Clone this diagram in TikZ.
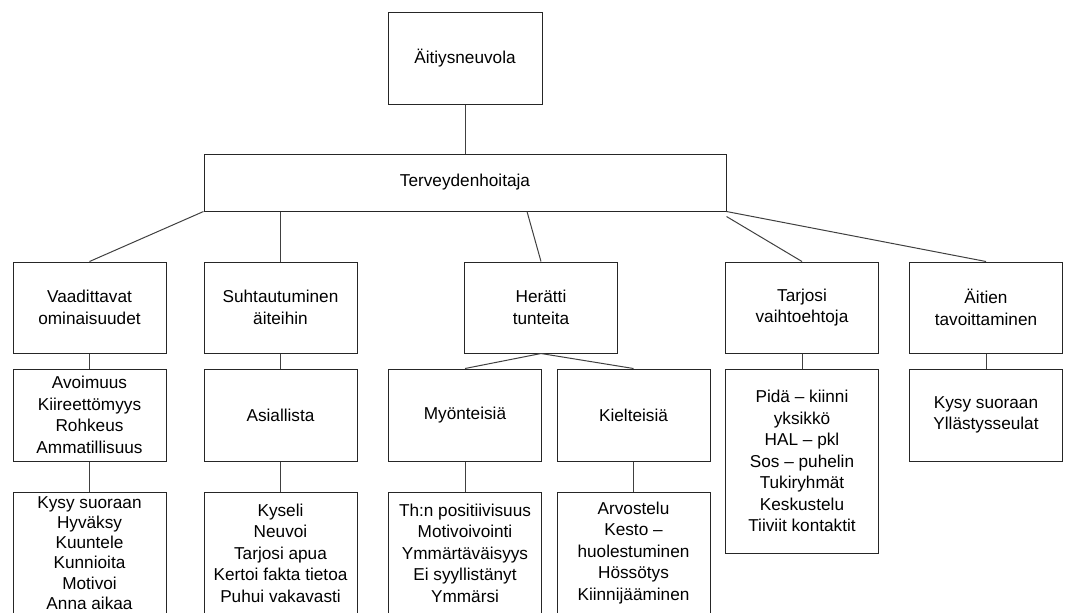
\documentclass[tikz,border=0pt]{standalone}
\usepackage{fontspec}
\setmainfont{Liberation Sans}
\usetikzlibrary{positioning,calc}
\tikzset{
  catbox/.style={draw=black!85,fill=white,line width=0.75pt,
                 minimum width=114.75pt,minimum height=68.25pt,
                 align=center,inner sep=2pt,
                 font=\fontsize{12.9}{16.1}\selectfont},
  itembox/.style={catbox,minimum height=69pt},
  listbox/.style={catbox,minimum height=91.5pt},
  link/.style={draw=black!75,line width=0.75pt}
}

\begin{document}
\begin{tikzpicture}[x=0.75pt,y=-0.75pt]
  \useasboundingbox (0,0) rectangle (1068,612);
  \clip (0,0) rectangle (1068,612);
  % top
  \node[catbox,minimum width=115.5pt,minimum height=69pt] (aitiys) at (465,58) {Äitiysneuvola};
  \node[catbox,minimum width=391.5pt,minimum height=42.75pt] (terv) at (465,182.5) {Terveydenhoitaja};
  % second row
  \node[catbox] (vaad)   at (89.5,307.5) {Vaadittavat\\ominaisuudet};
  \node[catbox] (suht)   at (280.5,307.5) {Suhtautuminen\\äiteihin};
  \node[catbox] (herat)  at (541,307.5) {Herätti\\tunteita};
  \node[catbox] (tarj)   at (802,307.5) {Tarjosi\\vaihtoehtoja};
  \node[catbox] (aitien) at (986,307.5) {Äitien\\tavoittaminen};
  % third row
  \node[itembox] (avoim)  at (89.5,415) {Avoimuus\\Kiireettömyys\\Rohkeus\\Ammatillisuus};
  \node[itembox] (asiall) at (280.5,415) {Asiallista};
  \node[itembox] (myont)  at (465,415) {Myönteisiä};
  \node[itembox] (kielt)  at (633.5,415) {Kielteisiä};
  \node[itembox,minimum height=138pt] (pida) at (802,461)
    {Pidä – kiinni\\yksikkö\\HAL – pkl\\Sos – puhelin\\Tukiryhmät\\Keskustelu\\Tiiviit kontaktit};
  \node[itembox] (kysyb)  at (986,415) {Kysy suoraan\\Yllästysseulat};
  % fourth row
  \node[listbox,inner ysep=0pt,font=\fontsize{12.9}{15.2}\selectfont] (kysya) at (89.5,553)
    {Kysy suoraan\\Hyväksy\\Kuuntele\\Kunnioita\\Motivoi\\Anna aikaa};
  \node[listbox] (kyseli) at (280.5,553) {Kyseli\\Neuvoi\\Tarjosi apua\\Kertoi fakta tietoa\\Puhui vakavasti};
  \node[listbox] (thn)    at (465,553) {Th:n positiivisuus\\Motivoivointi\\Ymmärtäväisyys\\Ei syyllistänyt\\Ymmärsi};
  \node[listbox] (arvo)   at (633.5,553) {Arvostelu\\Kesto –\\huolestuminen\\Hössötys\\Kiinnijääminen};
  % connectors
  \draw[link] (aitiys) -- (terv);
  \draw[link] (terv.south west) -- (vaad.north);
  \draw[link] (suht.north) -- (suht.north |- terv.south);
  \draw[link] ($(terv.south)+(62,0)$) -- (herat.north);
  \draw[link] ($(terv.south east)+(0,5)$) -- (tarj.north);
  \draw[link] (terv.south east) -- (aitien.north);
  \draw[link] (vaad) -- (avoim);
  \draw[link] (avoim) -- (kysya);
  \draw[link] (suht) -- (asiall);
  \draw[link] (asiall) -- (kyseli);
  \draw[link] (herat.south) -- (myont.north);
  \draw[link] (herat.south) -- (kielt.north);
  \draw[link] (myont) -- (thn);
  \draw[link] (kielt) -- (arvo);
  \draw[link] (tarj) -- (pida);
  \draw[link] (aitien) -- (kysyb);
\end{tikzpicture}
\end{document}
